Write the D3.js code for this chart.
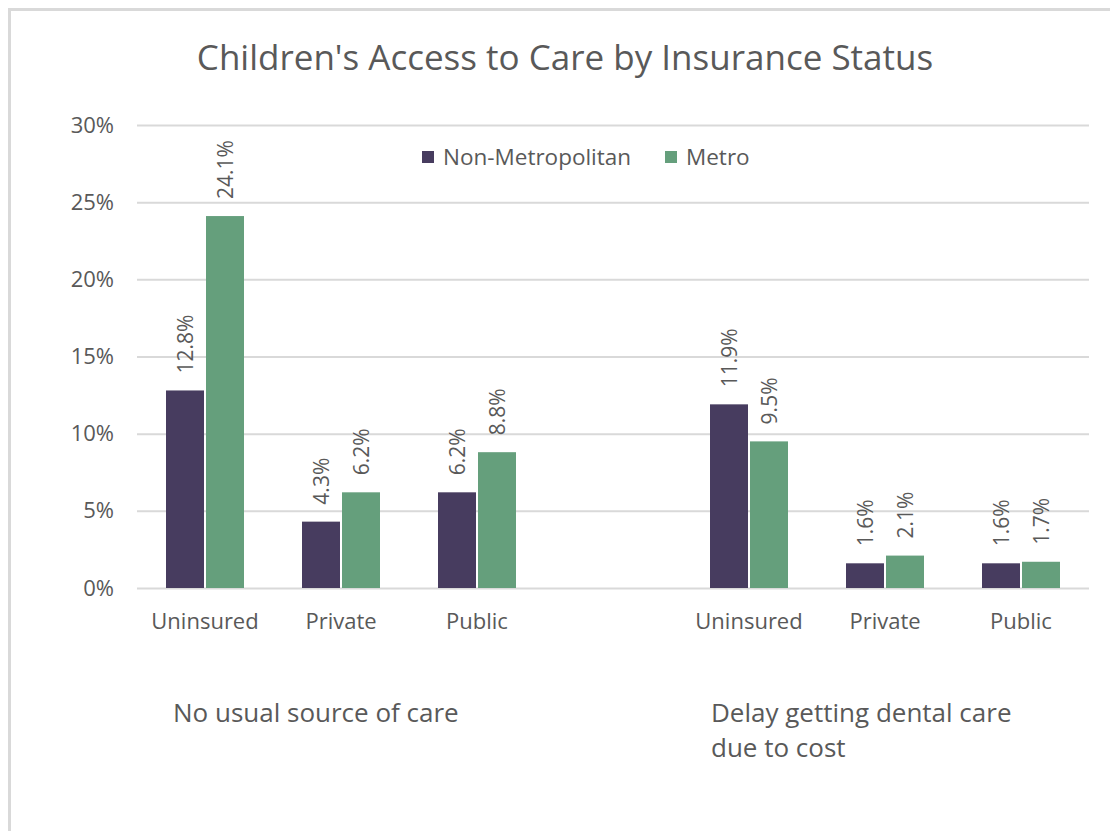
<!DOCTYPE html>
<html>
<head>
<meta charset="utf-8">
<script src="https://cdn.jsdelivr.net/npm/d3@7"></script>
<style>
  html, body { margin: 0; padding: 0; background: #ffffff; }
  svg { display: block; font-family: "Open Sans", "Noto Sans", sans-serif; }
</style>
</head>
<body>
<svg id="chart" width="1110" height="831"></svg>
<script>
// ---- data ----
const title = "Children's Access to Care by Insurance Status";
const categories = ["Uninsured", "Private", "Public", "", "Uninsured", "Private", "Public"];
const groupLabels = [["No usual source of care"], ["Delay getting dental care", "due to cost"]];
const groupStartIndex = [0, 4];
const seriesNames = ["Non-Metropolitan", "Metro"];
const nonMetro = [12.8, 4.3, 6.2, null, 11.9, 1.6, 1.6];
const metro = [24.1, 6.2, 8.8, null, 9.5, 2.1, 1.7];
const yTicks = [0, 5, 10, 15, 20, 25, 30];
const colors = ["#473c5f", "#659f7c"];

(function () {
const svg = d3.select("#chart");
const textColor = "#595959";

// frame
svg.append("rect").attr("x", 9.5).attr("y", 9.5).attr("width", 1120).attr("height", 840)
  .attr("fill", "none").attr("stroke", "#d9d9d9").attr("stroke-width", 3);

const mLeft = 137, mRight = 1089, mTop = 125, mBottom = 588;

const x = d3.scaleBand().domain(d3.range(categories.length)).range([mLeft, mRight]).paddingInner(0).paddingOuter(0);
const y = d3.scaleLinear().domain([0, 30]).range([mBottom, mTop]);

// title
svg.append("text").attr("x", 565).attr("y", 70).attr("text-anchor", "middle")
  .attr("font-size", 35).attr("fill", textColor).text(title);

// y axis with gridlines
const yAxis = d3.axisLeft(y).tickValues(yTicks).tickFormat(d => d + "%").tickSize(-(mRight - mLeft)).tickPadding(23);
const gy = svg.append("g").attr("transform", `translate(${mLeft},0)`).call(yAxis);
gy.select(".domain").remove();
gy.selectAll(".tick line").attr("stroke", "#d9d9d9").attr("stroke-width", 2);
gy.selectAll(".tick text").attr("fill", textColor).attr("font-size", 22).attr("font-family", "Open Sans");

// x axis labels
const xAxis = d3.axisBottom(x).tickFormat(i => categories[i]).tickSize(0).tickPadding(25);
const gx = svg.append("g").attr("transform", `translate(0,${mBottom})`).call(xAxis);
gx.select(".domain").remove();
gx.selectAll(".tick text").attr("fill", textColor).attr("font-size", 22).attr("font-family", "Open Sans");

// bars
const barW = 38, gap = 2;
const series = [nonMetro, metro];
series.forEach((vals, s) => {
  const g = svg.append("g");
  const data = vals.map((v, i) => ({ v, i })).filter(d => d.v !== null);
  const bx = d => x(d.i) + x.bandwidth() / 2 + (s === 0 ? -(barW + gap / 2) : gap / 2);
  g.selectAll("rect").data(data).enter().append("rect")
    .attr("x", bx).attr("y", d => y(d.v)).attr("width", barW).attr("height", d => y(0) - y(d.v))
    .attr("fill", colors[s]);
  g.selectAll("text").data(data).enter().append("text")
    .attr("transform", d => `translate(${bx(d) + barW / 2 + 7.5},${y(d.v) - 17}) rotate(-90)`)
    .attr("text-anchor", "start").attr("font-size", 21).attr("fill", textColor)
    .text(d => d.v.toFixed(1) + "%");
});

// group labels
const groupOffsets = [36, 30];
groupLabels.forEach((lines, gi) => {
  const t = svg.append("text").attr("font-size", 26).attr("fill", textColor);
  lines.forEach((ln, li) => {
    t.append("tspan").attr("x", x(groupStartIndex[gi]) + groupOffsets[gi]).attr("y", 722 + li * 35).text(ln);
  });
});

// legend
const legendX = [422, 665];
seriesNames.forEach((n, i) => {
  svg.append("rect").attr("x", legendX[i]).attr("y", 151).attr("width", 12).attr("height", 12).attr("fill", colors[i]);
  svg.append("text").attr("x", legendX[i] + 21).attr("y", 165).attr("font-size", 22.5).attr("fill", textColor).text(n);
});
})();
</script>
</body>
</html>
